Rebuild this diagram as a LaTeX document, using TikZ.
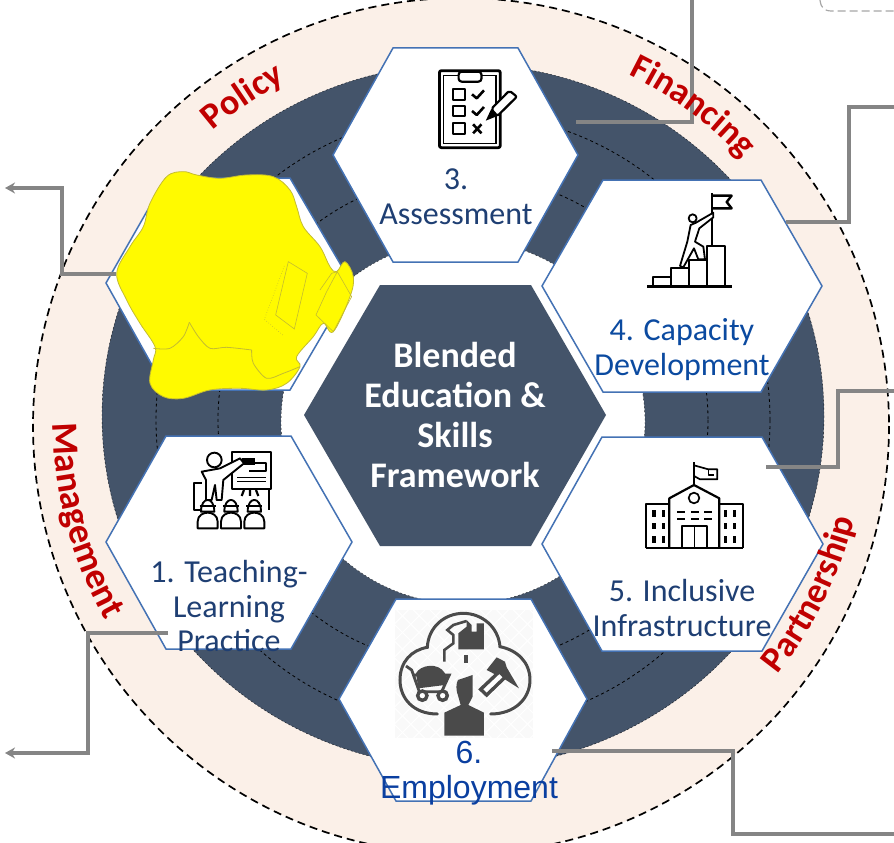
\documentclass[tikz,border=0pt]{standalone}
\usepackage{fontspec}
\usetikzlibrary{decorations.text,arrows.meta}
\newfontfamily\calib{Carlito}
\newfontfamily\arialf{Liberation Sans}
\definecolor{ringdark}{HTML}{44546A}
\definecolor{peach}{HTML}{FBF0E8}
\definecolor{hexline}{HTML}{4472B4}
\definecolor{lblred}{HTML}{C00000}
\definecolor{lblnavy}{HTML}{1F3F73}
\definecolor{lblblue}{HTML}{0B4AA0}
\definecolor{lblemp}{HTML}{0A3FA0}
\definecolor{connect}{HTML}{858585}
\definecolor{blob}{HTML}{FFFA00}
\definecolor{blobedge}{HTML}{C4BC30}
\definecolor{icongrey}{HTML}{4A4A4A}
\tikzset{
  hexa/.style={draw=hexline,line width=1.5pt,fill=white,line join=miter},
  conn/.style={draw=connect,line width=3.8pt,line join=miter},
  connarrow/.style={conn,-{Stealth[length=10pt,width=11pt]}},
  lab/.style={font=\calib\fontsize{32}{35}\selectfont,align=center,text=lblnavy,inner sep=0pt},
  ic/.style={draw=black,line width=2.2pt,line join=round},
  icthin/.style={draw=black,line width=1.2pt},
  ringdash/.style={draw=black,line width=0.8pt,dash pattern=on 3pt off 3pt},
  ringedge/.style={draw=black!70!ringdark,line width=0.4pt,dash pattern=on 2pt off 2pt},
  px/.style={x=0.3333pt,y=-0.3333pt}
}
\newcommand{\curved}[5]{% radius, from, to, size, text
  \path[decorate,decoration={text along path,text align=center,
    text={|\calib\bfseries\fontsize{#4}{#4}\selectfont\color{lblred}|#5}}]
    plot[smooth,domain=#2:#3,samples=50] ({461+#1*cos(\x)},{420+#1*sin(\x)});}
\begin{document}
\begin{tikzpicture}[x=1pt,y=-1pt]
\useasboundingbox (0,0) rectangle (894,843);
% rings
\begin{scope}
\clip (0,0) rectangle (894,843);
\fill[peach] (461,426) circle[radius=428];
\draw[draw=black,line width=1.7pt,dash pattern=on 8pt off 5pt] (461,426) circle[radius=428];
\end{scope}
\fill[ringdark] (463,416) ellipse[x radius=361,y radius=352];
\draw[ringedge] (463,416) ellipse[x radius=361,y radius=352];
\draw[ringdash] (463,420) circle[radius=245];
\draw[ringdash] (463,420) circle[radius=307];
\fill[white] (463,422) circle[radius=182];
\draw[ringedge] (463,422) circle[radius=182];
% hexagons
\path[hexa] (333,155)--(393,48)--(518,48)--(578,155)--(518,262)--(393,262)--cycle;
\path[hexa] (542,286)--(603,180)--(761,180)--(822,286)--(761,392)--(603,392)--cycle;
\path[hexa] (542,544)--(602,437)--(762,437)--(823,544)--(762,651)--(602,651)--cycle;
\path[hexa] (339,699)--(396,599)--(531,599)--(587,699)--(531,801)--(396,801)--cycle;
\path[hexa] (106,542)--(166,436)--(291,436)--(352,542)--(291,649)--(166,649)--cycle;
\path[hexa] (106,283)--(166,178)--(290,178)--(352,284)--(290,390)--(166,390)--cycle;
\path[fill=ringdark] (304,415)--(380,285)--(531,285)--(606,415)--(531,546)--(380,546)--cycle;
% connector ends
\coordinate (a3) at (576,122); \coordinate (b3) at (692,0);
\coordinate (a4) at (786,222); \coordinate (m4) at (849,107); \coordinate (b4) at (894,107);
\coordinate (a5) at (766,467); \coordinate (m5) at (838,391); \coordinate (b5) at (894,391);
\coordinate (a6) at (552,751); \coordinate (m6) at (733,834); \coordinate (b6) at (894,834);
\coordinate (a1) at (168,633); \coordinate (m1) at (88,753); \coordinate (b1) at (5,753);
\coordinate (a2) at (116,274); \coordinate (m2) at (62,188); \coordinate (b2) at (5,188);
\draw[conn] (a3) -| (b3);
\draw[conn] (a4) -| (m4) -- (b4);
\draw[conn] (a5) -| (m5) -- (b5);
\draw[conn] (a6) -| (m6) -- (b6);
\draw[connarrow] (a1) -| (m1) -- (b1);
\draw[connarrow] (a2) -| (m2) -- (b2);
\draw[draw=gray!70,line width=1.2pt,dash pattern=on 8pt off 4pt] (820,0) .. controls (821,8) and (824,11) .. (832,11) -- (894,11);
% arc labels
\curved{381}{203.5}{268.5}{36}{Policy}
\curved{384}{-89.5}{-17.5}{36}{Financing}
\curved{408}{205}{125}{37}{Management}
\curved{406}{62.5}{-9.5}{36}{Partnership}
% centre
\node[font=\calib\bfseries\fontsize{36}{40}\selectfont,align=center,text=white,inner sep=0pt] (centre) at (455,415) {Blended\\Education \&\\Skills\\Framework};
% labels
\node[lab] (t3) at (456,197) {3.\\Assessment};
\node[lab,text=lblblue] (t4) at (682,350) {4. Capacity\\Development};
\node[lab] (t5) at (682,608) {5. Inclusive\\Infrastructure};
\node[lab] (t1) at (229,606) {1. Teaching-\\Learning\\Practice};
% icon 3
\begin{scope}[shift={(330pt,0pt)},x=0.3623pt,y=-0.3333pt]
\draw[ic,line width=2.8pt,rounded corners=2pt] (302,212) rectangle (470,443);
\draw[icthin] (314,226) rectangle (458,430);
\draw[ic,fill=white,rounded corners=3pt] (355,215) rectangle (418,245);
\foreach \y in {283,333,385} \draw[ic] (340,{\y-16}) rectangle (372,{\y+16});
\foreach \y in {283,333} \draw[ic,line width=2.6pt] (392,{\y}) -- (405,{\y+12}) -- (425,{\y-12});
\draw[ic,line width=2.6pt] (395,373) -- (418,400) (418,373) -- (395,400);
\draw[ic,fill=white,rounded corners=2pt] (445,327) -- (495,272) -- (516,290) -- (462,348) -- cycle;
\fill[black] (445,327) -- (462,348) -- (430,362) -- cycle;
\end{scope}
% icon 4
\begin{scope}[shift={(540pt,-180pt)},px]
\draw[ic,line width=1.8pt] (515,40) -- (515,197);
\draw[ic,line width=2.4pt] (515,47) -- (575,47) -- (560,66) -- (575,85) -- (515,85);
\draw[ic,line width=2.4pt] (322,320) -- (575,320);
\draw[ic,line width=2pt] (340,320) -- (340,290) -- (392,290) -- (392,320);
\draw[ic,line width=2pt] (392,290) -- (392,265) -- (447,265) -- (447,320);
\draw[ic,line width=2pt] (447,265) -- (447,240) -- (500,240) -- (500,320);
\draw[ic,line width=2pt] (500,240) -- (500,197) -- (555,197) -- (555,320);
\draw[ic,line width=1.8pt,fill=white] (458,115) circle[radius=12];
\draw[ic,line width=1.8pt,fill=white] (468,128) -- (520,98) -- (520,112) -- (478,145) -- (465,185) -- (490,200) -- (495,238) -- (475,238) -- (462,205) -- (430,262) -- (420,258) -- (442,185) -- (452,135) -- cycle;
\end{scope}
% icon 5
\begin{scope}[shift={(540pt,-380pt)},px]
\draw[ic,line width=1.7pt] (462,247) -- (462,312);
\draw[ic,line width=1.7pt] (462,256) -- (505,268) -- (532,268) -- (532,298) -- (480,298) -- (462,288);
\draw[ic,line width=1.4pt] (505,268) -- (505,285) -- (522,285);
\draw[ic] (318,505) -- (318,372) -- (388,372) -- (388,505);
\draw[ic] (538,505) -- (538,372) -- (608,372) -- (608,505);
\draw[ic] (318,505) -- (608,505);
\draw[ic] (388,505) -- (388,355) -- (462,315) -- (538,355) -- (538,505);
\draw[ic,line width=1.7pt] (462,354) circle[radius=16];
\draw[ic] (427,505) -- (427,437) -- (500,437) -- (500,505);
\draw[ic,line width=1.4pt] (463,437) -- (463,505);
\foreach \x in {342,370,556,584} \foreach \y in {400,438,478}
  \fill[black] ({\x-5},{\y-10}) rectangle ({\x+5},{\y+10});
\foreach \x in {424,464,504} \foreach \y in {396,417}
  \fill[black] ({\x-12},{\y-3.5}) rectangle ({\x+12},{\y+3.5});
\end{scope}
% icon 1
\begin{scope}[shift={(100pt,-430pt)},px]
\draw[ic,line width=1.7pt] (397,67) -- (513,67) -- (513,178) -- (397,178) -- cycle;
\draw[ic,line width=1.7pt] (507,178) -- (507,240);
\fill[black] (425,85) rectangle (465,105);
\draw[ic,line width=1.9pt] (465,98) -- (497,98) -- (497,122) -- (447,122);
\draw[icthin] (412,142) -- (498,142) (412,155) -- (498,155);
\draw[ic] (450,180) -- (450,198) (432,180) -- (425,198) (468,180) -- (475,198);
\draw[ic,line width=1.9pt] (343,90) circle[radius=22];
\draw[ic,line width=1.9pt,fill=white] (305,125) -- (360,115) -- (420,85) -- (432,100) -- (370,150) -- (365,210) -- (350,210) -- (345,165) -- (335,210) -- (318,210) -- (318,150) -- cycle;
\draw[ic,line width=1.7pt] (305,158) -- (281,158) -- (281,240) -- (300,240);
\foreach \s in {323,393,463}{
  \draw[ic,line width=1.9pt,fill=white] ({\s-20},245) .. controls ({\s-20},198) and ({\s+20},198) .. ({\s+20},245) -- cycle;
  \draw[ic,line width=1.9pt,fill=white] ({\s-30},295) -- ({\s-30},275) .. controls ({\s-30},255) and ({\s-12},248) .. (\s,248) .. controls ({\s+12},248) and ({\s+30},255) .. ({\s+30},275) -- ({\s+30},295) -- cycle;
  \draw[ic,line width=1.7pt] ({\s-24},228) -- ({\s+24},228);
}
\end{scope}
% icon 6
\begin{scope}[shift={(330pt,-590pt)},px]
\begin{scope}
\clip (195,60) rectangle (610,445);
\fill[black!2.5] (195,60) rectangle (610,445);
\foreach \k in {-400,-350,...,600} {
  \draw[white,line width=1pt] (\k,60) -- ({\k+385},445);
  \draw[white,line width=1pt] ({\k+385},60) -- (\k,445);
}
\end{scope}
\draw[draw=icongrey,line width=3pt,line cap=round] (322,372) .. controls (250,372) and (210,325) .. (210,270) .. controls (210,215) and (245,180) .. (292,172) .. controls (295,110) and (345,70) .. (400,70) .. controls (455,70) and (505,110) .. (510,170) .. controls (560,180) and (600,215) .. (600,270) .. controls (600,325) and (555,372) .. (482,372);
\fill[icongrey] (343,437) -- (343,368) -- (392,345) -- (385,320) .. controls (377,300) and (378,280) .. (384,270) -- (428,255) -- (428,320) -- (415,345) -- (462,368) -- (462,437) -- cycle;
% factory
\fill[icongrey] (385,178) -- (385,130) -- (410,110) -- (410,90) -- (425,105) -- (425,125) -- (440,125) -- (440,100) -- (462,100) -- (462,178) -- cycle;
\draw[draw=icongrey,line width=2.6pt] (343,215) -- (343,180) -- (370,160) -- (370,135) -- (352,120) -- (370,105) -- (410,93);
\fill[icongrey] (403,195) rectangle (415,218);
% cart
\draw[draw=icongrey,line width=2.8pt] (228,228) -- (245,240) -- (268,305) -- (335,305) -- (358,255) -- (250,255);
\fill[icongrey] (258,250) .. controls (270,225) and (325,215) .. (345,250) -- (352,262) -- (345,285) -- (265,295) -- cycle;
\draw[draw=icongrey,line width=3.4pt,fill=white] (277,317) circle[radius=14];
\draw[draw=icongrey,line width=3.4pt,fill=white] (338,317) circle[radius=14];
% tools
\fill[icongrey] (500,202) -- (525,215) -- (530,232) -- (567,295) -- (520,265) -- (505,258) -- (470,240) -- cycle;
\draw[draw=icongrey,line width=3.4pt,fill=white] (452,298) -- (508,245) -- (525,262) -- (470,315) -- cycle;
\end{scope}
\node[font=\arialf\fontsize{32}{35}\selectfont,align=center,text=lblemp,inner sep=0pt] (t6) at (469,773) {6.\\Employment};
% yellow scribble
\begin{scope}[shift={(100pt,-160pt)},px]
\draw[draw=blobedge,line width=0.8pt,fill=blob] plot[smooth cycle,tension=0.6] coordinates {(250,35) (290,45) (360,55) (440,45) (520,50) (570,90) (590,140) (610,200) (660,260) (690,320) (710,335) (735,305) (760,350) (750,410) (700,515) (670,490) (640,530) (590,590) (600,620) (560,670) (500,690) (420,685) (330,690) (250,715) (190,710) (150,670) (160,600) (165,560) (120,490) (80,420) (50,340) (90,260) (130,200) (150,130) (200,50)};
\draw[draw=blobedge,line width=0.8pt] plot[smooth,tension=0.5] coordinates {(160,565) (210,565) (250,530) (268,487)};
\draw[draw=blobedge,line width=0.8pt] plot[smooth,tension=0.5] coordinates {(268,487) (295,530) (330,565) (380,562) (455,570)};
\draw[draw=blobedge,line width=0.8pt] plot[smooth,tension=0.5] coordinates {(455,570) (460,610) (500,655) (550,640) (600,620)};
\draw[draw=blobedge,line width=0.6pt] (565,305) -- (622,340) -- (583,507) -- (527,465) -- cycle;
\draw[draw=blobedge,line width=0.6pt,dotted] (553,318) -- (493,478) -- (552,528);
\draw[draw=blobedge,line width=0.6pt] (660,390) -- (695,340) -- (712,335) -- (755,410) -- (700,515) -- (648,465) -- (680,395) -- (712,335);
\end{scope}
\end{tikzpicture}
\end{document}
